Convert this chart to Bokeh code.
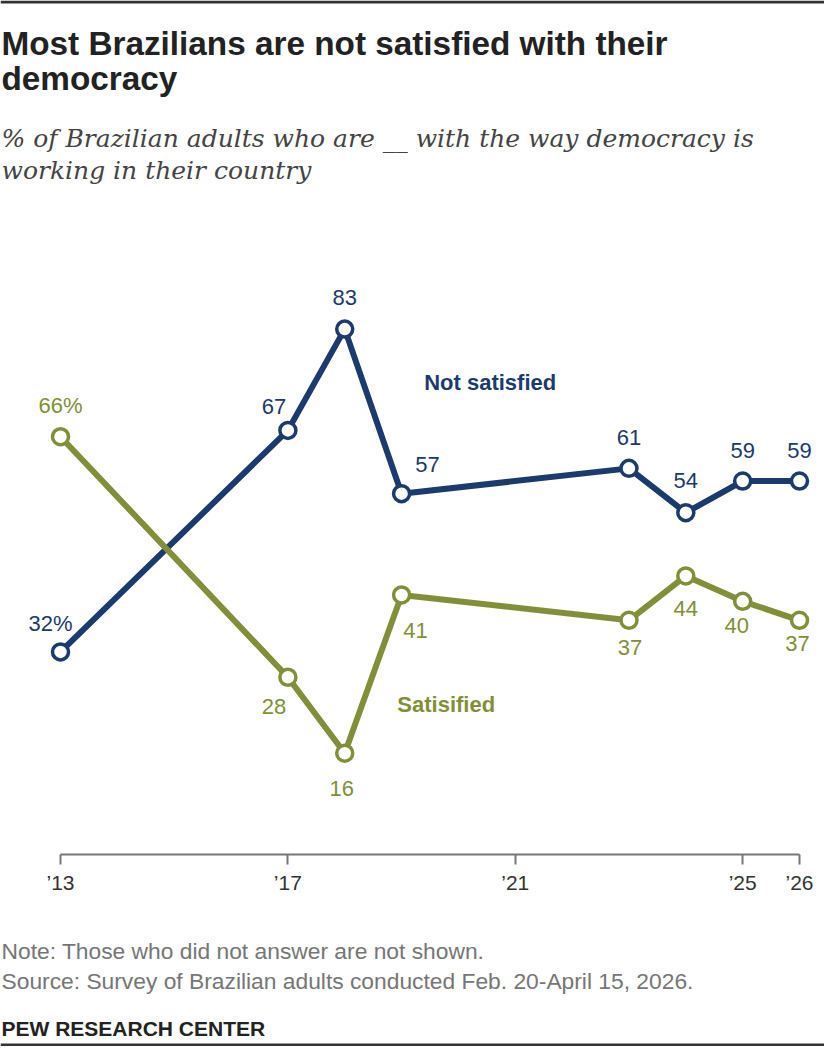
from bokeh.plotting import figure
from bokeh.models import ColumnDataSource, Range1d, FixedTicker, Label, BoxAnnotation
from bokeh.core.properties import value
from bokeh.embed import file_html
from bokeh.resources import INLINE

# ---------------- data ----------------
YEARS = [2013, 2017, 2018, 2019, 2023, 2024, 2025, 2026]
NOT_SATISFIED = [32, 67, 83, 57, 61, 54, 59, 59]
SATISFIED = [66, 28, 16, 41, 37, 44, 40, 37]
NOT_SAT_LABELS = ["32%", "67", "83", "57", "61", "54", "59", "59"]
SAT_LABELS = ["66%", "28", "16", "41", "37", "44", "40", "37"]
TICK_YEARS = [2013, 2017, 2021, 2025, 2026]
TICK_LABELS = ["\u201913", "\u201917", "\u201921", "\u201925", "\u201926"]
SERIES_NAMES = ["Not satisfied", "Satisified"]

TITLE_LINES = ["Most Brazilians are not satisfied with their", "democracy"]
SUBTITLE_LINES = ["% of Brazilian adults who are __ with the way democracy is",
                  "working in their country"]
NOTE_LINES = ["Note: Those who did not answer are not shown.",
              "Source: Survey of Brazilian adults conducted Feb. 20-April 15, 2026."]
CREDIT = "PEW RESEARCH CENTER"

# ---------------- style / layout ----------------
NAVY = "#1d3a6c"
OLIVE = "#828f38"
SANS = "Liberation Sans"
SERIF = "DejaVu Serif"

W, H = 824, 1046
X0_PX, X1_PX = 60, 799     # canvas x of first and last year
Y0_PX = 854.0              # canvas y of value 0
PPU = 6.33                 # pixels per percentage point
PXY = (X1_PX - X0_PX) / (YEARS[-1] - YEARS[0])


def fx(px):
    return YEARS[0] + (px - X0_PX) / PXY


def fy(py):
    return (Y0_PX - py) / PPU


# label offsets in pixels (dx right, dy down) relative to each point
NS_OFF = [(-10, -28), (-14, -24), (0, -32), (26, -29), (0, -31), (0, -32), (0, -31), (0, -31)]
S_OFF = [(0, -31), (-14, 29), (-3, 35), (14, 36), (1, 27), (0, 33), (-6, 24), (-2, 23)]

p = figure(width=W, height=H, output_backend="svg", toolbar_location=None,
           x_range=Range1d(fx(0), fx(W)), y_range=Range1d(fy(H), fy(0)),
           min_border=0, min_border_left=0, min_border_right=0,
           min_border_top=0, min_border_bottom=0)
p.outline_line_color = None
p.grid.visible = False
p.yaxis.visible = False
p.background_fill_color = "white"
p.border_fill_color = "white"

ax = p.xaxis[0]
ax.fixed_location = 0
ax.bounds = (YEARS[0], YEARS[-1])
ax.ticker = FixedTicker(ticks=TICK_YEARS)
ax.major_label_overrides = {t: l for t, l in zip(TICK_YEARS, TICK_LABELS)}
ax.axis_line_color = "#777777"
ax.axis_line_width = 2
ax.major_tick_line_color = "#777777"
ax.major_tick_line_width = 2
ax.major_tick_out = 10
ax.major_tick_in = 0
ax.minor_tick_line_color = None
ax.major_label_standoff = 6
ax.major_label_text_font = SANS
ax.major_label_text_font_size = "21px"
ax.major_label_text_color = "#333333"

# top and bottom rules
p.add_layout(BoxAnnotation(top=fy(0), bottom=fy(3), fill_color="#333333",
                           fill_alpha=1, line_color=None))
p.add_layout(BoxAnnotation(top=fy(H - 3), bottom=fy(H), fill_color="#333333",
                           fill_alpha=1, line_color=None))

for vals, labs, offs, col in [(NOT_SATISFIED, NOT_SAT_LABELS, NS_OFF, NAVY),
                              (SATISFIED, SAT_LABELS, S_OFF, OLIVE)]:
    src = ColumnDataSource(dict(
        x=YEARS, y=vals, t=labs,
        lx=[x + o[0] / PXY for x, o in zip(YEARS, offs)],
        ly=[v - o[1] / PPU for v, o in zip(vals, offs)],
    ))
    p.line("x", "y", source=src, line_color=col, line_width=6, line_join="round")
    p.scatter("x", "y", source=src, marker="circle", size=16, fill_color="white",
              line_color=col, line_width=3.5)
    p.text("lx", "ly", text="t", source=src, text_color=col, text_align="center",
           text_baseline="middle", text_font=value(SANS), text_font_size="22px")

# series names
p.text(x=[fx(489.7), fx(445.7)], y=[fy(382.3), fy(704.3)], text=SERIES_NAMES,
       text_color=[NAVY, OLIVE], text_align="center", text_baseline="middle",
       text_font=value(SANS), text_font_style="bold", text_font_size="22px")


def add_label(txt, px, py, size, color, style="normal", font=SANS):
    p.add_layout(Label(x=fx(px), y=fy(py), text=txt, text_font=font,
                       text_font_size=size, text_color=color, text_font_style=style,
                       text_baseline="alphabetic", text_align="left"))


for i, t in enumerate(TITLE_LINES):
    add_label(t, 1, 43 + 35 * i, "33.3px", "#222222", "bold")
for i, t in enumerate(SUBTITLE_LINES):
    add_label(t, 1, 138 + 32 * i, "25px", "#444444", "italic", SERIF)
for i, t in enumerate(NOTE_LINES):
    add_label(t, 1, 950 + 30 * i, "22.8px", "#767676")
add_label(CREDIT, 1, 1028, "21px", "#222222", "bold")

open("out.html", "w").write(file_html(p, INLINE))
